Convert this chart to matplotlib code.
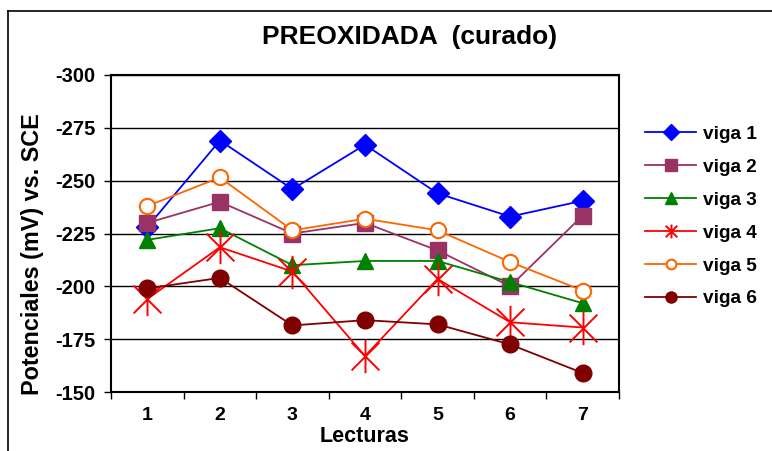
import matplotlib
matplotlib.use("Agg")
import matplotlib.pyplot as plt
from matplotlib.path import Path
from matplotlib.lines import Line2D
import numpy as np

plt.rcParams['font.family'] = ['Liberation Sans', 'DejaVu Sans']
plt.rcParams['font.weight'] = 'bold'

lecturas = [1, 2, 3, 4, 5, 6, 7]
viga1 = [-228, -269, -246, -267, -244, -233, -240.5]
viga2 = [-230, -240, -225, -230, -217, -200, -233.5]
viga3 = [-222, -227.5, -210, -212, -212, -202, -192]
viga4 = [-194, -218.5, -207, -167, -203.5, -183, -180.5]
viga5 = [-238, -251.5, -226.5, -232, -226.5, -211.5, -198]
viga6 = [-199, -204, -181.5, -184, -182, -172.5, -159]
labels = ['viga 1', 'viga 2', 'viga 3', 'viga 4', 'viga 5', 'viga 6']
yticks = [-300, -275, -250, -225, -200, -175, -150]

# Excel-style asterisk: X plus vertical line
ast = Path([(-1, -1), (1, 1), (-1, 1), (1, -1), (0, -1.2), (0, 1.2)],
           [Path.MOVETO, Path.LINETO, Path.MOVETO, Path.LINETO, Path.MOVETO, Path.LINETO])

styles = [
    dict(color='#0000FF', marker='D', ms=11, mfc='#0000FF', mec='#0000FF'),
    dict(color='#993366', marker='s', ms=12, mfc='#993366', mec='#993366'),
    dict(color='#008000', marker='^', ms=12, mfc='#008000', mec='#008000'),
    dict(color='#FF0000', marker=ast, ms=24, mfc='none', mec='#FF0000', mew=1.4),
    dict(color='#FF6600', marker='o', ms=11, mfc='white', mec='#FF6600', mew=1.5),
    dict(color='#800000', marker='o', ms=12, mfc='#800000', mec='#800000'),
]
leg_ms = [8, 8, 8, 10, 7, 8]

fig = plt.figure(figsize=(7.72, 4.51), dpi=100)
ax = fig.add_axes([111/772, 1-392/451, (619-111)/772, (392-75)/451])

x = np.array(lecturas)
series = [viga1, viga2, viga3, viga4, viga5, viga6]
for s, st in zip(series, styles):
    ax.plot(x, s, lw=1.3, zorder=3, **st)

ax.set_xlim(0.5, 7.5)
ax.set_ylim(-150, -300)
ax.set_yticks(yticks)
ax.set_yticklabels([str(t) for t in yticks], fontsize=14.5, fontweight='bold')
ax.yaxis.grid(True, color='black', lw=1.0)
ax.set_axisbelow(True)
ax.set_xticks(np.arange(0.5, 8, 1))
ax.set_xticklabels([])
ax.set_xticks(x, minor=True)
ax.set_xticklabels([str(v) for v in lecturas], minor=True, fontsize=14, fontweight='bold')
ax.tick_params(axis='x', which='minor', length=0, pad=11)
ax.tick_params(axis='x', which='major', length=5, width=1, direction='out')
ax.tick_params(axis='y', length=5, width=1, direction='out', pad=6)
for sp in ax.spines.values():
    sp.set_linewidth(1.5)
    sp.set_color('black')

ax.set_xlabel('Lecturas', fontsize=15.5, fontweight='bold', va='center')
ax.xaxis.set_label_coords(0.5, (392-437)/317)
ax.set_ylabel('Potenciales (mV) vs. SCE', fontsize=16.8, fontweight='bold', va='center')
ax.yaxis.set_label_coords((32-111)/508, (392-254)/317)

fig.text(410/772, 1-37/451, 'PREOXIDADA  (curado)', fontsize=19, fontweight='bold',
         ha='center', va='center')

handles = []
for st, lm, lab in zip(styles, leg_ms, labels):
    d = dict(st)
    d['ms'] = lm
    handles.append(Line2D([], [], lw=1.3, label=lab, **d))
fig.legend(handles=handles, loc='center left', bbox_to_anchor=(645/772, 1-216.5/451),
           frameon=False, prop={'weight': 'bold', 'size': 13.7},
           handlelength=2.7, handletextpad=0.35, labelspacing=0.82,
           borderpad=0, borderaxespad=0)

# outer chart frame (clipped by figure edges)
fig.add_artist(Line2D([8/772, 8/772], [0, 1-11/451], transform=fig.transFigure, color='black', lw=1.2))
fig.add_artist(Line2D([8/772, 1], [1-11/451, 1-11/451], transform=fig.transFigure, color='black', lw=1.2))

fig.savefig('out.png', dpi=100)
